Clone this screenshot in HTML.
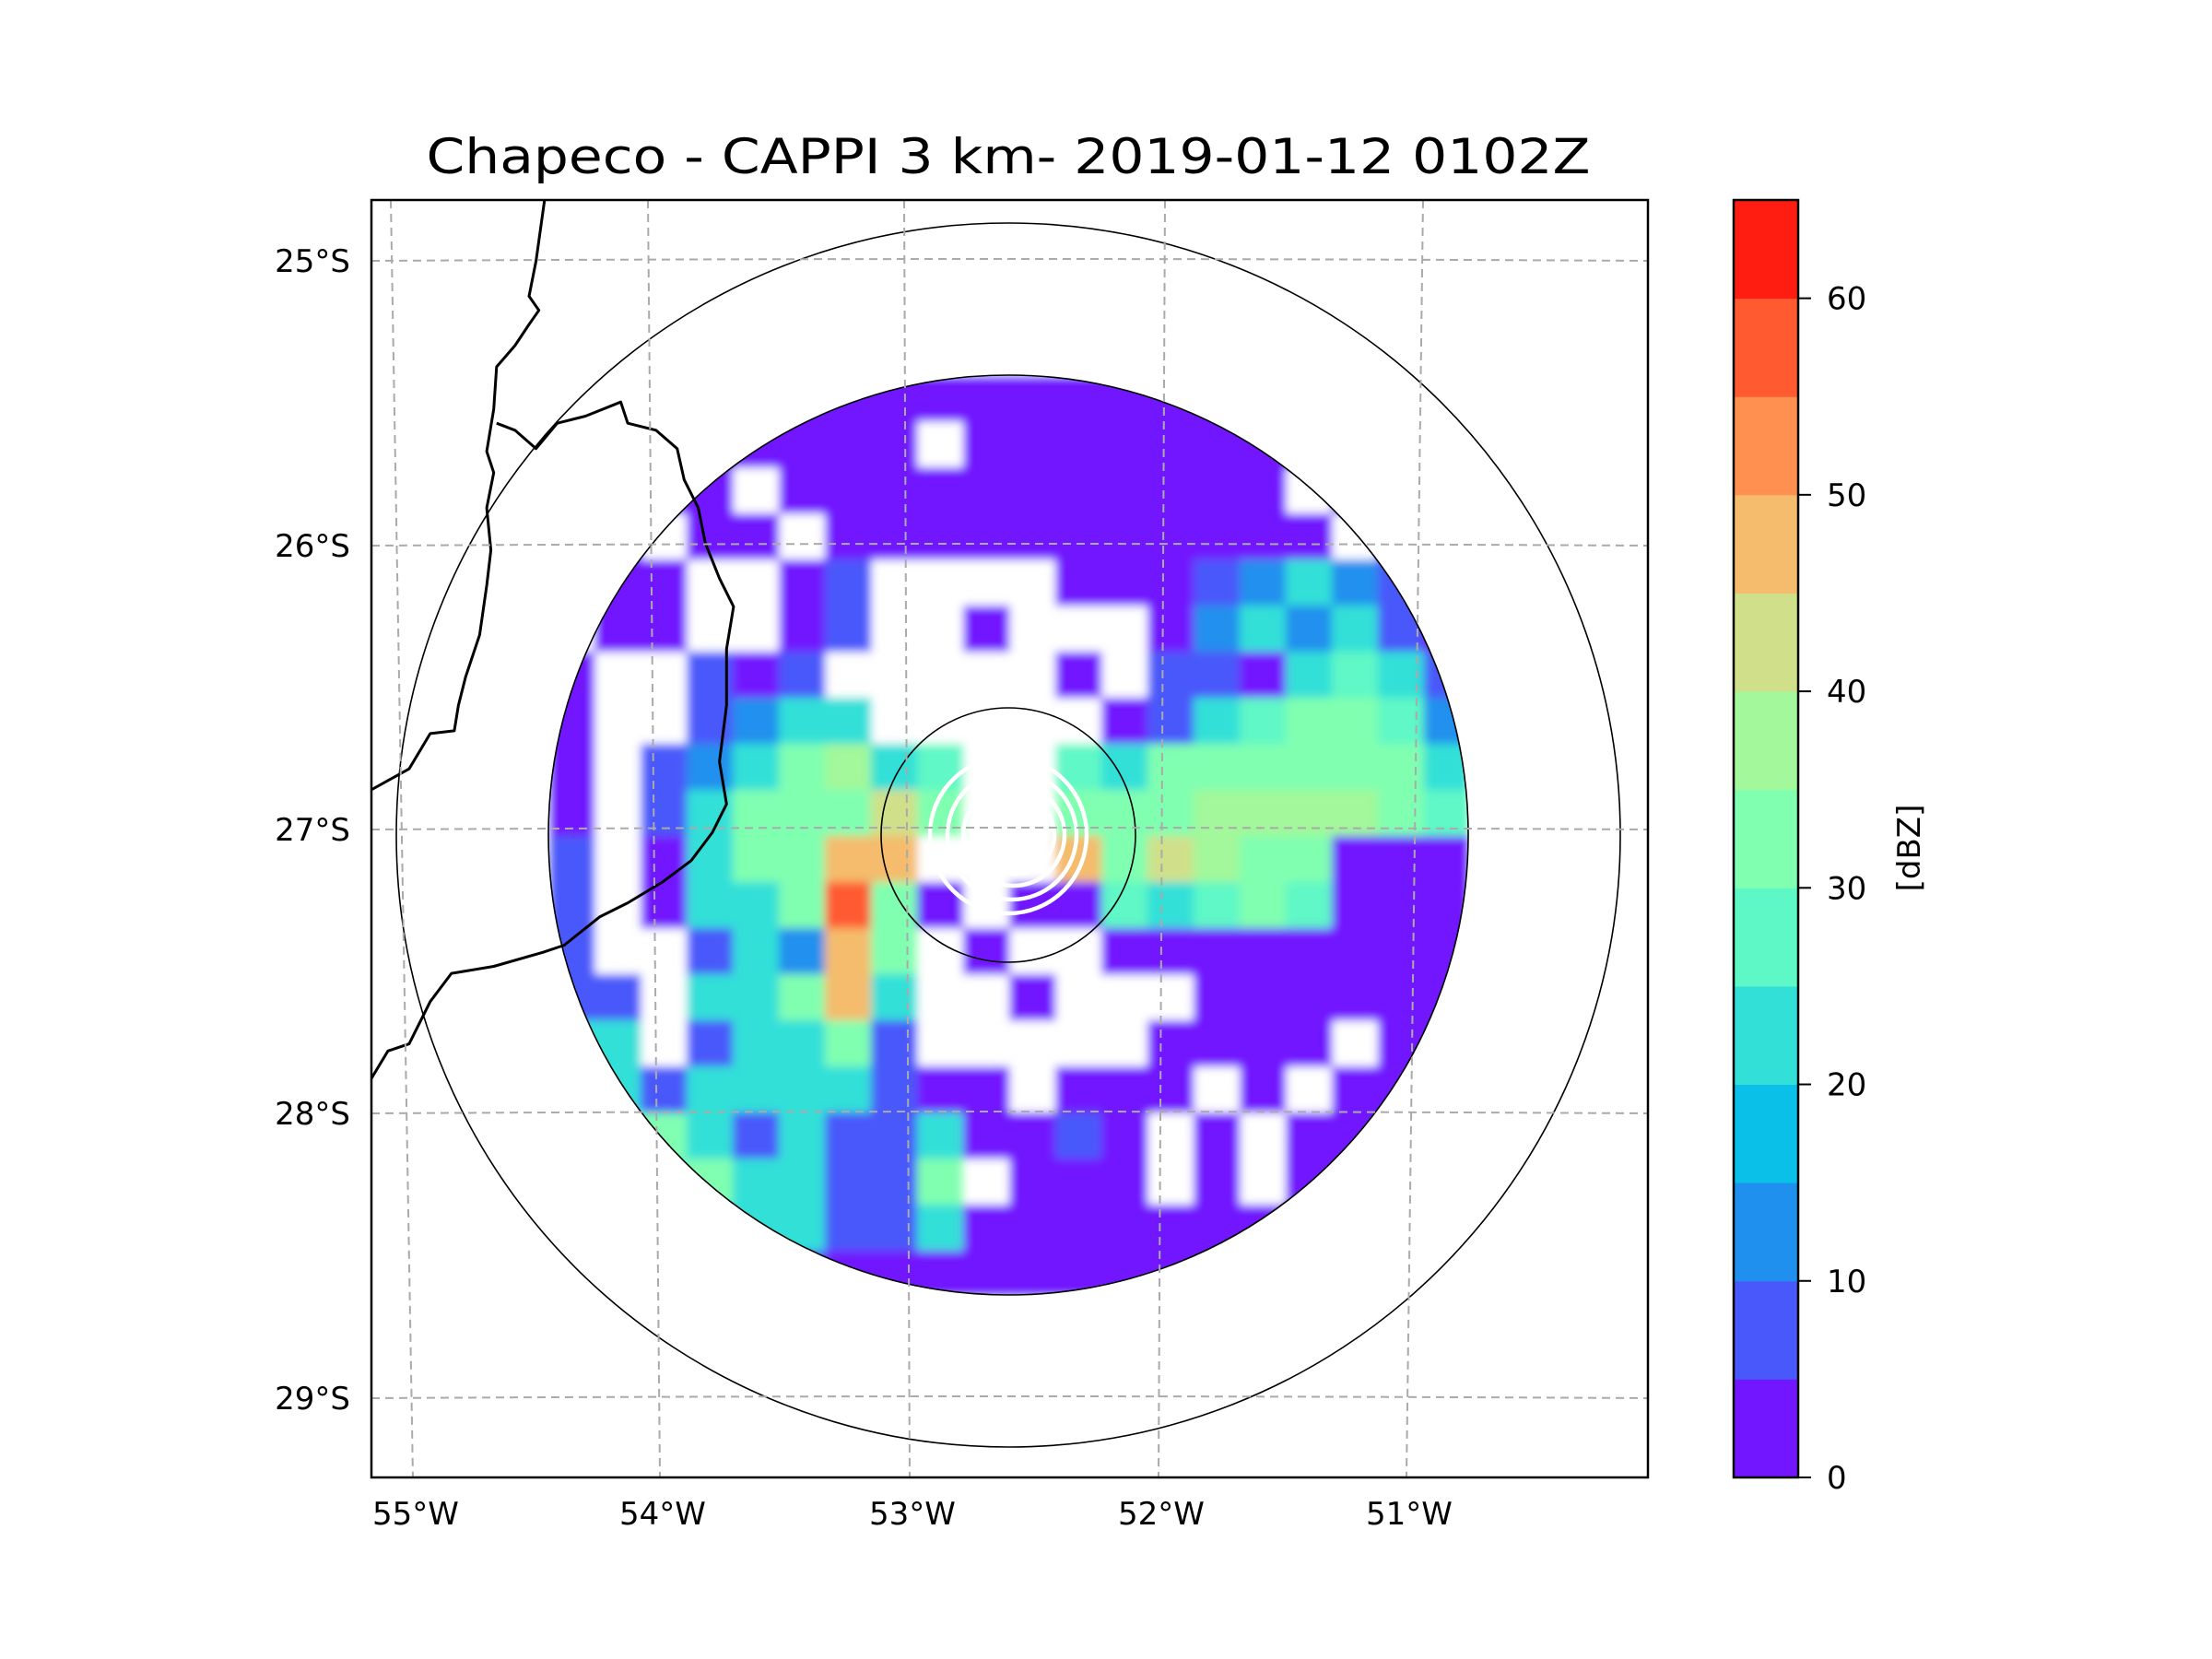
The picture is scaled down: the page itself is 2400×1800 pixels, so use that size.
<!DOCTYPE html>
<html><head><meta charset="utf-8"><style>
html,body{margin:0;padding:0;background:#fff;}
svg{display:block;font-family:"DejaVu Sans","Liberation Sans",sans-serif;}
</style></head><body>
<svg id="chart" width="2400" height="1800" viewBox="0 0 2400 1800" xmlns="http://www.w3.org/2000/svg">
<rect width="2400" height="1800" fill="#fff"/>
<text x="1094" y="188" font-size="53" text-anchor="middle" textLength="1263" lengthAdjust="spacingAndGlyphs">Chapeco - CAPPI 3 km- 2019-01-12 0102Z</text>
<defs><clipPath id="radarClip"><circle cx="1094" cy="906" r="499"/></clipPath>
<clipPath id="axClip"><rect x="403" y="217" width="1385" height="1386"/></clipPath>
<filter id="soft" x="-5%" y="-5%" width="110%" height="110%"><feGaussianBlur stdDeviation="5"/></filter></defs>
<g clip-path="url(#radarClip)"><g id="cells" filter="url(#soft)"></g></g>
<g id="overlay" clip-path="url(#axClip)"></g>
<g id="cbar"></g>
<g id="ticks"></g>
</svg>
<script>
// Colour levels (dBZ bounds) and colours
const levels=[0,5,10,15,20,25,30,35,40,45,50,55,60,65];
const colors=["#7216ff","#4858fa","#2090ee","#0abfe8","#33e0d8","#5ef8c6","#80ffb0","#a2f89a","#d0e08a","#f4bc6c","#ff9050","#ff5a30","#ff1c10"];
const cbarTicks=[0,10,20,30,40,50,60];
const lonLabels=["55°W","54°W","53°W","52°W","51°W"];
const latLabels=["25°S","26°S","27°S","28°S","29°S"];
// Reflectivity grid (dBZ, -1 = no echo), 20x20 cells over the radar disc
const grid=[
[2,2,2,2,2,2,2,2,2,2,2,2,2,2,2,2,2,2,2,2],
[2,2,2,2,2,2,2,2,-1,2,2,2,2,2,2,2,2,2,2,2],
[2,2,2,2,-1,2,2,2,2,2,2,2,2,2,2,2,-1,2,2,2],
[2,2,-1,2,2,-1,2,2,2,2,2,2,2,2,2,2,2,-1,2,2],
[2,2,2,-1,-1,2,8,-1,-1,-1,-1,2,2,2,8,13,22,13,8,2],
[-1,2,2,-1,-1,2,8,-1,-1,2,-1,-1,-1,2,13,22,13,22,8,2],
[2,-1,-1,8,2,8,-1,-1,-1,-1,-1,2,-1,8,8,2,22,27,22,8],
[2,-1,-1,8,13,22,22,-1,-1,-1,-1,-1,2,8,22,27,33,33,27,13],
[2,-1,8,13,22,33,38,22,27,-1,-1,27,22,33,33,33,33,33,33,22],
[2,-1,8,22,33,33,33,43,33,-1,-1,33,33,33,38,38,38,38,33,27],
[8,-1,2,22,33,33,48,48,-1,-1,-1,48,33,43,38,33,33,2,2,2],
[8,-1,2,22,22,33,58,33,2,-1,2,2,27,22,27,33,27,2,2,2],
[8,-1,-1,8,22,13,48,33,-1,2,-1,-1,2,2,2,2,2,2,2,2],
[8,8,-1,22,22,33,48,22,-1,-1,2,-1,-1,-1,2,2,2,2,2,2],
[22,22,-1,8,22,22,33,8,-1,-1,-1,-1,-1,2,2,2,2,-1,2,2],
[22,22,8,22,22,22,22,8,2,2,-1,2,2,2,-1,2,-1,2,2,2],
[27,27,33,22,8,22,8,8,22,2,2,8,2,-1,2,-1,2,2,2,2],
[27,27,27,33,22,22,8,8,33,-1,2,2,2,-1,2,-1,2,2,2,2],
[22,22,22,22,22,22,8,8,22,2,2,2,2,2,2,2,2,2,2,2],
[2,2,2,22,22,8,2,2,2,2,2,2,2,2,2,2,2,2,2,2]
];
const NS="http://www.w3.org/2000/svg";
function mk(tag,attrs,parent){const e=document.createElementNS(NS,tag);for(const k in attrs)e.setAttribute(k,attrs[k]);parent.appendChild(e);return e;}
function colorFor(v){for(let i=levels.length-2;i>=0;i--){if(v>=levels[i])return colors[i];}return colors[0];}
const gx0=595,gy0=407,cw=50,ch=50;
const xCell=j=>gx0+j*cw, yCell=i=>gy0+i*ch;
const cells=document.getElementById('cells');
mk('rect',{x:560,y:370,width:1070,height:1070,fill:'#fff'},cells);
grid.forEach((row,i)=>row.forEach((v,j)=>{
  if(v<0)return;
  const r=mk('rect',{x:xCell(j),y:yCell(i),width:cw+0.5,height:ch+0.5,fill:colorFor(v)},cells);
  
  
}));
const ov=document.getElementById('overlay');
[664,499,138].forEach(rad=>{
  const c=mk('circle',{cx:1094,cy:906,r:rad,fill:'none',stroke:'#000','stroke-width':1.6},ov);
  
  
});
[[1094,906,85],[1098,906,70],[1100,906,55],[1102,906,42],[1104,906,30],[1106,906,18]].forEach(a=>{
  const c=mk('circle',{cx:a[0],cy:a[1],r:a[2],fill:'none',stroke:'#fff','stroke-width':4.5},ov);
  
  
});
const S=1.5306;
const b1=[[386,142],[380,185],[375,210],[382,220],[375,230],[365,245],[352,260],[350,290],[345,320],[350,335],[345,360],[348,390],[345,415],[340,450],[330,480],[325,500],[322,518],[305,520],[290,545],[263,560]];
const b2=[[352,300],[365,305],[380,318],[395,300],[415,295],[440,285],[445,300],[465,305],[480,318],[485,340],[495,360],[500,385],[510,410],[520,430],[515,460],[515,500],[510,540],[515,570],[505,590],[490,610],[470,625],[445,640],[425,650],[400,670],[385,675],[350,685],[320,690],[305,710],[290,740],[275,745],[263,765]];
[b1,b2].forEach(b=>{
  const p=mk('polyline',{points:b.map(q=>(q[0]*S).toFixed(1)+','+(q[1]*S).toFixed(1)).join(' '),fill:'none',stroke:'#000','stroke-width':3,'stroke-linejoin':'round'},ov);
  
  
});
const latY=[283,592,900,1208,1517];
const lonTop=[424,703,981,1264,1544], lonBot=[448,716,987,1257,1526];
latY.forEach(y=>{
  const l=mk('path',{d:`M403 ${y} Q1094 ${y-4} 1788 ${y}`,fill:'none',stroke:'#aaa','stroke-width':2,'stroke-dasharray':'9,6'},ov);
  
  
});
lonTop.forEach((x,i)=>{
  const l=mk('line',{x1:x,y1:217,x2:lonBot[i],y2:1603,stroke:'#aaa','stroke-width':2,'stroke-dasharray':'9,6'},ov);
  
  
});
const tk=document.getElementById('ticks');
const frame=mk('rect',{x:403,y:217,width:1385,height:1386,fill:'none',stroke:'#000','stroke-width':2.5},tk);


lonLabels.forEach((t,i)=>{
  const e=mk('text',{x:lonBot[i]+3,y:1654,'font-size':34,'text-anchor':'middle'},tk);e.textContent=t;
  
  
});
latLabels.forEach((t,i)=>{
  const e=mk('text',{x:380,y:latY[i]+12,'font-size':34,'text-anchor':'end'},tk);e.textContent=t;
  
  
});
const cb=document.getElementById('cbar');
const cbTop=217,cbBot=1603,cbX=1881,cbW=70;
const yC=v=>cbBot-(v-levels[0])/(levels[levels.length-1]-levels[0])*(cbBot-cbTop);
colors.forEach((c,i)=>{
  const r=mk('rect',{x:cbX,y:yC(levels[i+1]),width:cbW,height:yC(levels[i])-yC(levels[i+1])+0.5,fill:c},cb);
  
  
});
const cf=mk('rect',{x:cbX,y:cbTop,width:cbW,height:cbBot-cbTop,fill:'none',stroke:'#000','stroke-width':2.5},cb);


cbarTicks.forEach(v=>{
  const y=yC(v);
  const l=mk('line',{x1:cbX+cbW,y1:y,x2:cbX+cbW+14,y2:y,stroke:'#000','stroke-width':2},cb);
  
  
  const e=mk('text',{x:1982,y:y+12,'font-size':34},cb);e.textContent=String(v);
  
  
});
const lab=mk('text',{x:0,y:0,'font-size':34,'text-anchor':'middle',transform:'translate(2083,920) rotate(-90)'},cb);
lab.textContent='[dBZ]';


</script>
</body></html>
